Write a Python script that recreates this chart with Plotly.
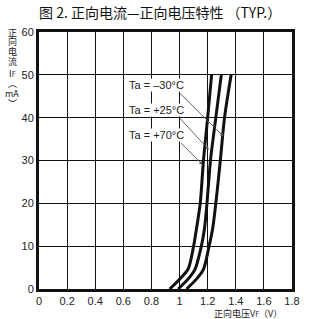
import plotly.graph_objects as go

# Data (forward voltage V, forward current mA)
vf_70 = [0.93, 1.00, 1.06, 1.10, 1.12, 1.147, 1.17, 1.20, 1.228]
if_70 = [0, 2.3, 4.6, 10, 14, 20, 30, 40, 50]
vf_25 = [0.99, 1.06, 1.11, 1.155, 1.177, 1.195, 1.22, 1.258, 1.297]
if_25 = [0, 2.3, 4.6, 10, 14, 20, 30, 40, 50]
vf_m30 = [1.05, 1.12, 1.17, 1.21, 1.235, 1.258, 1.29, 1.32, 1.367]
if_m30 = [0, 2.3, 4.6, 10, 14, 20, 30, 40, 50]

x_ticks = [0, 0.2, 0.4, 0.6, 0.8, 1.0, 1.2, 1.4, 1.6, 1.8]
x_tick_labels = ["0", "0.2", "0.4", "0.6", "0.8", "1", "1.2", "1.4", "1.6", "1.8"]
y_ticks = [0, 10, 20, 30, 40, 50, 60]

labels = ["Ta = –30°C", "Ta = +25°C", "Ta = +70°C"]
label_y = [47.6, 41.8, 36.0]
arrow_start = [(0.99, 46.1), (0.99, 40.3), (1.0, 34.4)]
arrow_tip = [(1.313, 35.6), (1.209, 32.5), (1.165, 29.0)]

y_title_parts = ["正", "向", "电", "流", "I<span style='font-size:7px'>F</span>", "︵", "mA", "︶"]

fig = go.Figure()
for xs, ys in [(vf_70, if_70), (vf_25, if_25), (vf_m30, if_m30)]:
    fig.add_trace(go.Scatter(x=xs, y=ys, mode="lines",
                             line=dict(color="#111", width=3, shape="spline", smoothing=0.8),
                             showlegend=False, hoverinfo="skip"))

txtfont = dict(family="Liberation Sans, Arial, sans-serif", size=11, color="#222")
for lab, ly, (sx, sy), (tx, ty) in zip(labels, label_y, arrow_start, arrow_tip):
    fig.add_annotation(x=0.632, y=ly, text=lab, showarrow=False, xanchor="left",
                       yanchor="middle", font=txtfont, bgcolor="white", borderpad=0)
    fig.add_annotation(x=tx, y=ty, ax=sx, ay=sy, axref="x", ayref="y",
                       xref="x", yref="y", text="", showarrow=True,
                       arrowhead=2, arrowsize=0.8, arrowwidth=0.9, arrowcolor="#555")

fig.add_annotation(x=0.479, y=1.078, xref="paper", yref="paper", xanchor="center",
                   yanchor="middle", showarrow=False,
                   text="图 2. 正向电流—正向电压特性 （TYP.）",
                   font=dict(family="Noto Sans CJK SC", size=14, color="#111"))

# stacked vertical y-axis title, one line per annotation
for i, part in enumerate(y_title_parts):
    fig.add_annotation(x=-0.106, y=1.0 - 0.0388 * i - (0.006 if i >= 4 else 0),
                       xref="paper", yref="paper", xanchor="center", yanchor="middle",
                       showarrow=False, text=part,
                       font=dict(family="Noto Sans CJK SC", size=9, color="#222"))

fig.add_annotation(x=0.969, y=-0.094, xref="paper", yref="paper", xanchor="right",
                   yanchor="middle", showarrow=False,
                   text="正向电压V<span style='font-size:7px'>F</span>（V）",
                   font=dict(family="Noto Sans CJK SC", size=9, color="#222"))

axis_common = dict(showgrid=True, gridcolor="#111", gridwidth=1, showline=True,
                   linecolor="#111", linewidth=3, mirror=True, ticks="", zeroline=False,
                   tickfont=dict(family="Liberation Sans, Arial, sans-serif", size=11, color="#222"))
fig.update_xaxes(range=[0, 1.8], tickvals=x_ticks, ticktext=x_tick_labels, **axis_common)
fig.update_yaxes(range=[0, 60], tickvals=y_ticks, **axis_common)

fig.update_layout(width=312, height=319, margin=dict(l=39, r=14, t=32, b=29),
                  plot_bgcolor="white", paper_bgcolor="white")

fig.write_html("out.html")
